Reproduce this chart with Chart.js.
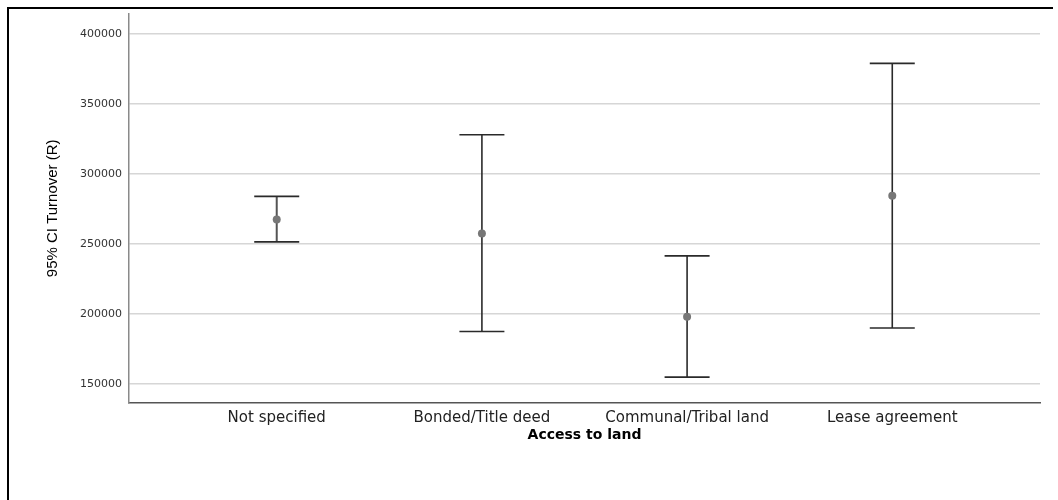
<!DOCTYPE html>
<html>
<head>
<meta charset="utf-8">
<script src="https://cdn.jsdelivr.net/npm/chart.js@4"></script>
<style>
  html, body { margin: 0; padding: 0; background: #fff; }
  #wrap { position: relative; width: 1058px; height: 500px; overflow: hidden; }
  #c { position: absolute; left: 0; top: 0; }
  #frame { position: absolute; left: 7px; top: 7px; width: 1044px; height: 500px;
           border-left: 2px solid #000; border-top: 2px solid #000; pointer-events: none; }
</style>
</head>
<body>
<div id="wrap">
  <canvas id="c" width="1058" height="500"></canvas>
  <div id="frame"></div>
</div>
<script>
// ---- data ----
const categories = ["Not specified", "Bonded/Title deed", "Communal/Tribal land", "Lease agreement"];
const meanValues = [267500, 257500, 198000, 284500];
const lowerCI   = [251500, 187500, 155000, 190000];
const upperCI   = [284000, 328000, 241500, 379000];
const yTicks    = [150000, 200000, 250000, 300000, 350000, 400000];
const xTitle = "Access to land";
const yTitle = "95% CI Turnover (R)";

// ---- datasets ----
const datasets = [];
datasets.push({
  type: 'scatter',
  label: 'Mean',
  data: categories.map((c, i) => ({ x: i, y: meanValues[i] })),
  pointStyle: 'circle',
  pointRadius: 4,
  pointBackgroundColor: '#777777',
  pointBorderColor: '#777777',
  pointBorderWidth: 0,
  showLine: false
});
categories.forEach((c, i) => {
  datasets.push({
    type: 'line',
    label: c + ' CI',
    data: [{ x: i, y: lowerCI[i] }, { x: i, y: upperCI[i] }],
    borderColor: i === 0 ? '#555555' : '#2a2a2a',
    borderWidth: i === 0 ? 2 : 1.6,
    pointStyle: 'line',
    pointRadius: 22.5,
    pointBorderColor: '#2a2a2a',
    pointBorderWidth: 1.6,
    fill: false,
    tension: 0
  });
});

new Chart(document.getElementById('c'), {
  data: { datasets },
  options: {
    responsive: false,
    animation: false,
    events: [],
    layout: { autoPadding: false, padding: { left: 0, top: 13, right: 18, bottom: 37 } },
    plugins: { legend: { display: false }, tooltip: { enabled: false } },
    scales: {
      x: {
        type: 'linear',
        min: -0.72,
        max: 3.72,
        afterBuildTicks: (s) => { s.ticks = categories.map((c, i) => ({ value: i })); },
        afterFit: (s) => { s.height = 60; },
        ticks: {
          callback: (v) => categories[v] !== undefined ? categories[v] : '',
          font: { family: 'DejaVu Sans', size: 15 },
          color: '#222',
          padding: 6,
          maxRotation: 0,
          autoSkip: false
        },
        grid: { display: false, drawTicks: false },
        border: { display: true, color: '#555555', width: 1.5 },
        title: {
          display: true,
          text: xTitle,
          font: { family: 'DejaVu Sans', size: 14, weight: 'bold' },
          color: '#000',
          padding: { top: 0, bottom: 19 }
        }
      },
      y: {
        type: 'linear',
        min: 136500,
        max: 414500,
        afterBuildTicks: (s) => { s.ticks = yTicks.map(v => ({ value: v })); },
        afterFit: (s) => { s.width = 129; },
        ticks: {
          callback: (v) => String(v),
          font: { family: 'DejaVu Sans', size: 11 },
          color: '#333',
          padding: 7
        },
        grid: { color: '#d6d6d6', lineWidth: 1.6, drawTicks: false },
        border: { display: true, color: '#8a8a8a', width: 1.5 },
        title: {
          display: true,
          text: yTitle,
          font: { family: 'Liberation Sans', size: 15 },
          color: '#000',
          padding: { top: 44, bottom: 0 }
        }
      }
    }
  }
});
</script>
</body>
</html>
